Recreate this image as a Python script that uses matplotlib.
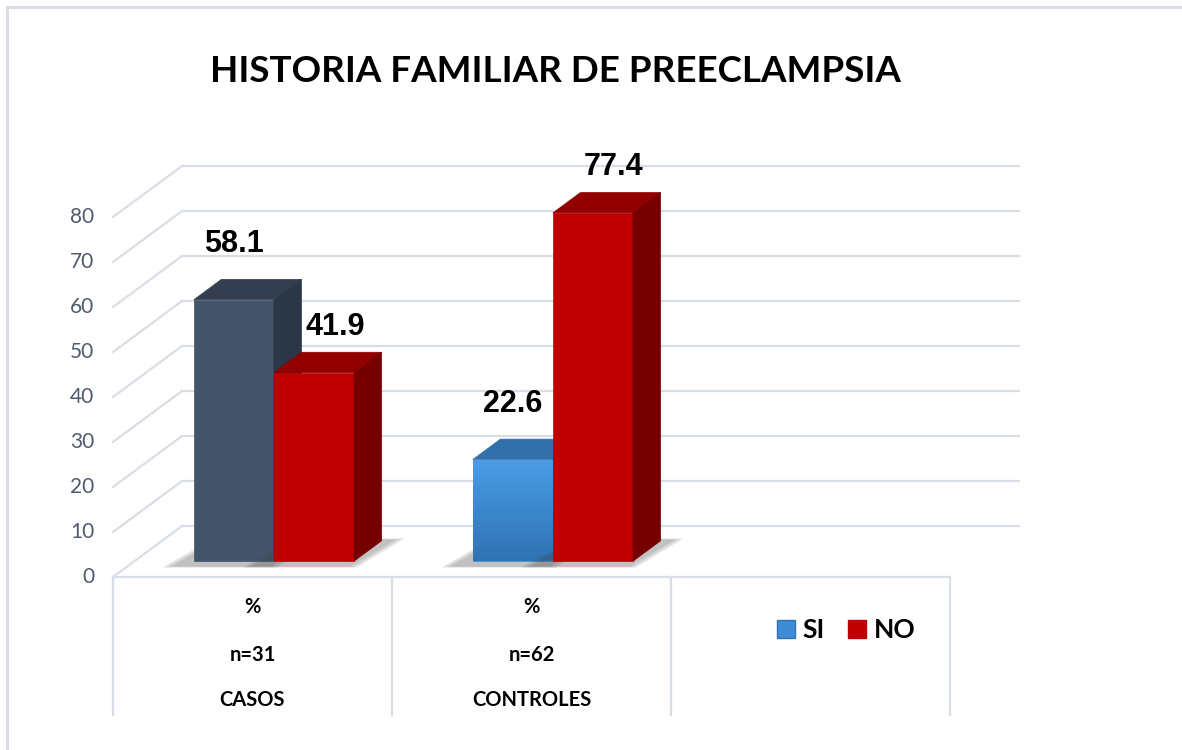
import matplotlib.pyplot as plt
import numpy as np
from matplotlib.patches import Polygon, Patch
from matplotlib.lines import Line2D

# data
categories = ['CASOS', 'CONTROLES']
n_labels = ['n=31', 'n=62']
unit_labels = ['%', '%']
series = ['SI', 'NO']
si_values = [58.1, 22.6]
no_values = [41.9, 77.4]
yticks = [0, 10, 20, 30, 40, 50, 60, 70, 80]
title = 'HISTORIA FAMILIAR DE PREECLAMPSIA'

# fake 3d: depth offset in data units (x in category units, y in value units)
DX, DY = 0.2473, 11.33
D0, D1 = 0.31, 0.71      # depth of bar front / back face
BAR_W = 0.287
N_SLOTS = 3               # third empty slot holds the legend
GRID = '#D9DEE6'


def proj(x, v, d):
    return (x + d * DX, v + d * DY)


def face(pts, color, z):
    poly = Polygon([proj(*p) for p in pts], closed=True, facecolor=color,
                   edgecolor=color, lw=0.5, zorder=z)
    ax.add_patch(poly)
    return poly


def bar3d(x0, x1, v, front, top, side, z, gradient=None):
    # soft shadow on the floor
    for k in range(5):
        m = 0.008 * (5 - k)
        face([(x0 - m - 0.04, 0, D0 - 0.08 - m), (x1 + m, 0, D0 - 0.08 - m),
              (x1 + m + 0.03, 0, D1 + m), (x0 - m, 0, D1 + m)], (0.3, 0.3, 0.3, 0.08), z - 1)
    fr = face([(x0, 0, D0), (x1, 0, D0), (x1, v, D0), (x0, v, D0)], front, z)
    if gradient is not None:
        fx0, fy0 = proj(x0, 0, D0)
        fx1, fy1 = proj(x1, v, D0)
        grad = np.linspace(0, 1, 100).reshape(-1, 1)
        im = ax.imshow(grad, cmap=gradient, extent=[fx0, fx1, fy0, fy1], origin='lower',
                       aspect='auto', zorder=z + 0.1)
        im.set_clip_path(fr)
    face([(x0, v, D0), (x1, v, D0), (x1, v, D1), (x0, v, D1)], top, z)
    face([(x1, 0, D0), (x1, 0, D1), (x1, v, D1), (x1, v, D0)], side, z)


fig = plt.figure(figsize=(11.82, 7.5), dpi=100)
ax = fig.add_axes([0, 0, 1, 1])

# frame of the chart area
fig.add_artist(Line2D([0.006, 0.006], [0, 0.991], color=GRID, lw=2.2))
fig.add_artist(Line2D([0.006, 1], [0.991, 0.991], color=GRID, lw=2.2))

left, right = -0.5, N_SLOTS - 0.5
# back wall gridlines + left wall diagonals
for t in yticks:
    bx0, by = proj(left, t, 1)
    bx1, _ = proj(right, t, 1)
    ax.plot([bx0, bx1], [by, by], color=GRID, lw=1.6, zorder=1)
    ax.plot([left, bx0], [t, by], color=GRID, lw=1.6, zorder=1)
    ax.text(left - 0.068, t, str(t), ha='right', va='center', fontsize=15,
            color='#4E5B6F', family='Lato')
# floor front edge and category table
ax.plot([left, right], [0, 0], color=GRID, lw=1.6, zorder=1)
for xb in np.arange(left, right + 0.01, 1.0):
    ax.plot([xb, xb], [0, -30.7], color=GRID, lw=1.6, zorder=1)

cmap_blue = plt.matplotlib.colors.LinearSegmentedColormap.from_list('b', ['#2F73B3', '#4A9DE6'])
si_styles = [('#44546A', '#333F50', '#2B3646', None),
             ('#3F8CD6', '#3270AC', '#2A5F95', cmap_blue)]

for i, cat in enumerate(categories):
    fc, tc, sc, grad = si_styles[i]
    bar3d(i - BAR_W, i, si_values[i], fc, tc, sc, 3, grad)
    bar3d(i, i + BAR_W, no_values[i], '#C00000', '#920000', '#760000', 5)
    # value labels
    lx, ly = proj(i - BAR_W / 2, si_values[i], D0)
    ax.text(lx, ly + 12.3, f'{si_values[i]:.1f}', ha='center', va='center', fontsize=22,
            fontweight='bold', family='Liberation Sans', color='black', zorder=10)
    lx, ly = proj(i + BAR_W / 2 + 0.075, no_values[i], D0)
    ax.text(lx, ly + 10.1, f'{no_values[i]:.1f}', ha='center', va='center', fontsize=22,
            fontweight='bold', family='Liberation Sans', color='black', zorder=10)
    ax.text(i, -6.7, unit_labels[i], ha='center', va='center', fontsize=14.5,
            fontweight='bold', family='Lato')
    ax.text(i, -17.3, n_labels[i], ha='center', va='center', fontsize=14.5,
            fontweight='bold', family='Lato')
    ax.text(i, -27.3, cat, ha='center', va='center', fontsize=14.5,
            fontweight='bold', family='Lato')

handles = [Patch(facecolor='#3F8CD6', edgecolor='#2F73B3', label=series[0]),
           Patch(facecolor='#C00000', edgecolor='#C00000', label=series[1])]
fig.legend(handles=handles, loc='center', bbox_to_anchor=(0.716, 0.16), ncol=2,
           frameon=False, prop={'family': 'Lato', 'weight': 'bold', 'size': 19},
           handlelength=0.65, handleheight=0.65, handletextpad=0.3, columnspacing=0.9)

fig.text(0.47, 0.904, title, ha='center', va='center', fontsize=26.5,
         fontweight='bold', family='Lato')

ax.set_xlim(-0.905, 3.3315)
ax.set_ylim(-38.44, 128.22)
ax.axis('off')
fig.savefig('out.png', dpi=100)
